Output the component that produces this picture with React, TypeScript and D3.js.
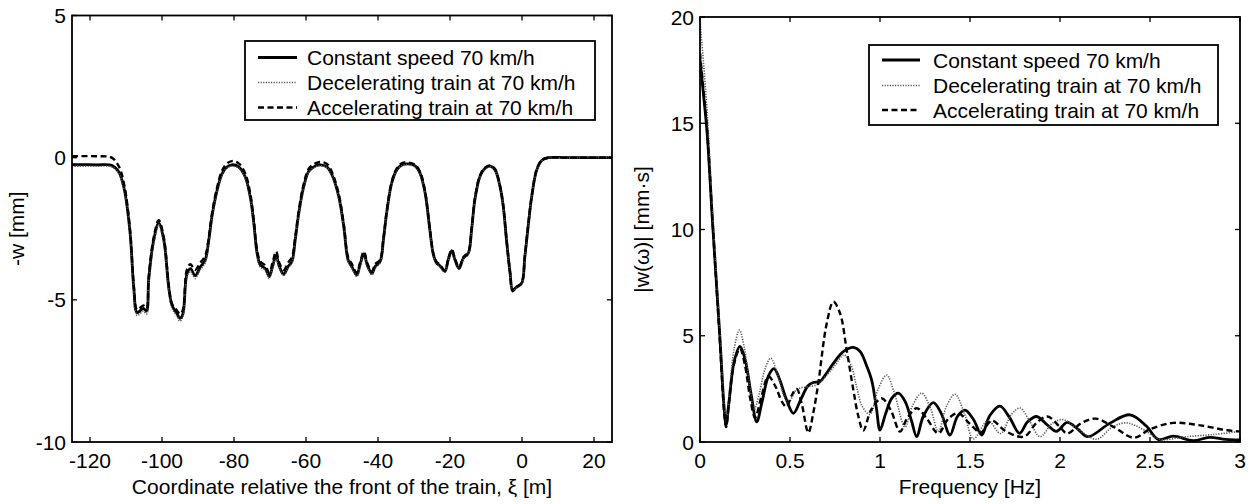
import React from "react";
import * as d3 from "d3";

// ---------- Left panel data: deflection vs coordinate ----------
const XI = [
  -125, -118, -114, -112, -110.5, -108.9, -107.8, -106.9, -105.2, -104.3,
  -103.7, -102.3, -100.9, -99.5, -98.1, -97.2, -96, -95, -94.2, -93.1,
  -92.1, -90.8, -89.4, -88, -87, -86.1, -84.7, -83.3, -81.9, -80.6,
  -78.7, -76.9, -75.5, -74.5, -73.6, -72.7, -71.3, -70.2, -69.3, -68.3,
  -67.4, -66.2, -65.0, -63.9, -63.0, -62.0, -60.6, -59.2, -57.4, -56.0,
  -54.2, -52.8, -50.9, -49.5, -48.3, -47.2, -45.9, -45.0, -43.9, -43.0,
  -41.7, -40.8, -39.4, -38.5, -37.6, -36.2, -34.8, -33.4, -31.6, -29.7,
  -28.3, -26.9, -25.6, -24.6, -23.7, -22.8, -21.4, -20.5, -19.5, -18.6,
  -17.5, -16.3, -14.9, -14.0, -13.1, -11.7, -10.3, -8.9, -7.5, -6.1,
  -5.2, -4.3, -3.3, -2.6, -1.5, -0.1, 0.8, 1.8, 2.7, 4.1,
  5.5, 7.3, 12, 18, 25,
];
const W_CONST = [
  -0.25, -0.25, -0.27, -0.5, -1.1, -2.6, -4.65, -5.45, -5.3, -5.4,
  -4.3, -2.9, -2.3, -2.9, -4.6, -5.2, -5.45, -5.65, -5.5, -4.1,
  -3.9, -4.15, -3.85, -3.6, -2.9, -2.05, -1.15, -0.56, -0.32, -0.25,
  -0.32, -0.67, -1.37, -2.3, -3.35, -3.77, -3.9, -4.18, -3.83, -3.45,
  -3.83, -4.1, -3.83, -3.65, -2.9, -1.95, -1.0, -0.47, -0.29, -0.25,
  -0.32, -0.6, -1.37, -2.43, -3.6, -3.85, -4.13, -3.77, -3.38, -3.77,
  -4.07, -3.83, -3.65, -2.9, -1.95, -0.9, -0.43, -0.26, -0.22, -0.29,
  -0.55, -1.25, -2.54, -3.42, -3.71, -3.8, -4.0, -3.6, -3.27, -3.6,
  -3.9, -3.54, -3.36, -2.54, -1.49, -0.67, -0.38, -0.3, -0.43, -1.02,
  -1.72, -2.9, -4.07, -4.65, -4.55, -4.42, -3.48, -2.31, -1.37, -0.43,
  -0.1, 0.0, 0.0, 0.0, 0.0,
];
const W_DEC = [
  -0.3, -0.3, -0.32, -0.55, -1.15, -2.65, -4.75, -5.55, -5.4, -5.5,
  -4.4, -3.0, -2.35, -3.0, -4.7, -5.3, -5.55, -5.75, -5.6, -4.2,
  -4.0, -4.25, -3.95, -3.7, -2.95, -2.1, -1.2, -0.6, -0.36, -0.3,
  -0.36, -0.7, -1.4, -2.35, -3.4, -3.85, -3.95, -4.25, -3.9, -3.5,
  -3.9, -4.15, -3.9, -3.7, -2.95, -2.0, -1.05, -0.5, -0.32, -0.28,
  -0.35, -0.63, -1.4, -2.48, -3.65, -3.9, -4.18, -3.82, -3.42, -3.82,
  -4.12, -3.88, -3.7, -2.95, -2.0, -0.95, -0.46, -0.28, -0.24, -0.31,
  -0.57, -1.28, -2.57, -3.45, -3.74, -3.83, -4.03, -3.63, -3.3, -3.63,
  -3.93, -3.57, -3.39, -2.57, -1.52, -0.7, -0.4, -0.32, -0.45, -1.04,
  -1.74, -2.92, -4.09, -4.68, -4.58, -4.45, -3.5, -2.33, -1.39, -0.45,
  -0.11, 0.0, -0.02, 0.01, 0.0,
];
const W_ACC = [
  0.05, 0.05, 0.0, -0.3, -0.95, -2.5, -4.55, -5.35, -5.2, -5.3,
  -4.2, -2.8, -2.2, -2.8, -4.5, -5.15, -5.35, -5.5, -5.35, -3.95,
  -3.75, -3.95, -3.7, -3.45, -2.8, -1.95, -1.05, -0.45, -0.2, -0.12,
  -0.2, -0.55, -1.25, -2.2, -3.25, -3.65, -3.8, -4.05, -3.7, -3.3,
  -3.7, -3.95, -3.7, -3.5, -2.8, -1.85, -0.9, -0.38, -0.2, -0.15,
  -0.22, -0.5, -1.28, -2.35, -3.5, -3.75, -4.05, -3.7, -3.3, -3.7,
  -4.0, -3.75, -3.58, -2.85, -1.9, -0.85, -0.38, -0.2, -0.17, -0.25,
  -0.5, -1.2, -2.5, -3.38, -3.67, -3.76, -3.96, -3.56, -3.23, -3.56,
  -3.86, -3.5, -3.32, -2.5, -1.45, -0.63, -0.35, -0.27, -0.4, -1.0,
  -1.7, -2.88, -4.05, -4.7, -4.55, -4.4, -3.45, -2.28, -1.35, -0.4,
  -0.08, 0.0, 0.0, 0.0, 0.0,
];
const LEFT_X_TICKS = [-120, -100, -80, -60, -40, -20, 0, 20];
const LEFT_Y_TICKS = [-10, -5, 0, 5];

// ---------- Right panel data: spectrum magnitude ----------
const F_CONST = [
  0, 0.02, 0.04, 0.07, 0.11, 0.135, 0.145, 0.16, 0.19, 0.222,
  0.25, 0.285, 0.315, 0.345, 0.38, 0.411, 0.44, 0.48, 0.519, 0.56,
  0.6, 0.63, 0.667, 0.7, 0.741, 0.796, 0.852, 0.89, 0.925, 0.954,
  0.98, 1.0, 1.03, 1.065, 1.102, 1.14, 1.175, 1.204, 1.24, 1.296,
  1.34, 1.389, 1.43, 1.472, 1.52, 1.565, 1.61, 1.667, 1.72, 1.775,
  1.82, 1.87, 1.93, 1.98, 2.04, 2.1, 2.155, 2.28, 2.389, 2.48,
  2.545, 2.63, 2.74, 2.83, 2.92, 3.0,
];
const S_CONST = [
  18.0, 16.3, 14.5, 10.3, 5.0, 1.5, 0.8, 1.8, 3.8, 4.5,
  3.9, 2.2, 0.95, 1.9, 3.1, 3.45, 3.0, 2.0, 1.35, 2.0,
  2.65, 2.8, 2.85, 3.2, 3.7, 4.25, 4.45, 4.25, 3.6, 2.9,
  1.6, 0.56, 1.3, 2.05, 2.3, 1.9, 1.0, 0.25, 1.2, 1.85,
  1.35, 0.33, 1.2, 1.5, 1.05, 0.33, 1.25, 1.69, 1.15, 0.41,
  0.95, 1.2, 0.8, 0.5, 0.92, 0.6, 0.25, 0.9, 1.28, 0.75,
  0.12, 0.28, 0.06, 0.22, 0.12, 0.1,
];
const F_DEC = [
  0, 0.02, 0.04, 0.07, 0.11, 0.135, 0.148, 0.165, 0.19, 0.219,
  0.245, 0.275, 0.3, 0.33, 0.36, 0.393, 0.43, 0.465, 0.49, 0.53,
  0.56, 0.6, 0.65, 0.7, 0.75, 0.8, 0.84, 0.87, 0.9, 0.944,
  0.99, 1.037, 1.08, 1.139, 1.18, 1.231, 1.28, 1.324, 1.37, 1.417,
  1.47, 1.519, 1.6, 1.67, 1.73, 1.778, 1.83, 1.889, 1.96, 2.02,
  2.1, 2.204, 2.29, 2.37, 2.46, 2.556, 2.7, 2.85, 3.0,
];
const S_DEC = [
  19.8, 17.8, 15.5, 10.8, 5.3, 1.8, 0.95, 2.5, 4.4, 5.27,
  4.5, 2.7, 1.51, 2.3, 3.4, 3.94, 3.2, 2.2, 1.82, 2.4,
  2.55, 2.6, 2.7, 3.1, 3.6, 4.1, 3.6, 2.6, 1.7, 1.3,
  2.5, 3.15, 2.3, 0.7, 1.7, 2.3, 1.6, 0.5, 1.7, 2.25,
  1.3, 0.15, 1.0, 0.4, 1.3, 1.6, 1.0, 0.25, 0.9, 1.05,
  0.6, 0.13, 0.7, 0.9, 0.6, 0.13, 0.25, 0.35, 0.5,
];
const F_ACC = [
  0, 0.02, 0.04, 0.07, 0.11, 0.135, 0.145, 0.16, 0.19, 0.222,
  0.25, 0.28, 0.306, 0.34, 0.38, 0.42, 0.455, 0.48, 0.51, 0.537,
  0.565, 0.602, 0.63, 0.657, 0.704, 0.741, 0.778, 0.815, 0.852, 0.88,
  0.907, 0.95, 1.009, 1.06, 1.111, 1.15, 1.204, 1.26, 1.324, 1.38,
  1.435, 1.5, 1.56, 1.62, 1.7, 1.8, 1.87, 1.93, 2.0, 2.04,
  2.12, 2.2, 2.3, 2.41, 2.5, 2.63, 2.78, 2.93, 3.0,
];
const S_ACC = [
  18.3, 16.5, 14.6, 10.3, 4.8, 1.3, 0.7, 1.8, 3.7, 4.4,
  3.6, 2.0, 1.15, 2.1, 3.08, 2.6, 1.9, 1.66, 2.2, 2.5,
  1.8, 0.44, 1.4, 2.76, 5.58, 6.6, 6.06, 4.33, 2.45, 1.2,
  0.54, 1.5, 2.06, 1.5, 0.49, 1.1, 1.59, 1.1, 0.41, 1.1,
  1.35, 0.85, 0.45, 1.0, 0.5, 0.25, 0.9, 1.2, 0.7, 0.4,
  0.9, 1.1, 0.7, 0.2, 0.6, 0.9, 0.78, 0.55, 0.5,
];
const RIGHT_X_TICKS = [0, 0.5, 1, 1.5, 2, 2.5, 3];
const RIGHT_Y_TICKS = [0, 5, 10, 15, 20];

const LEGEND_LABELS = [
  "Constant speed 70 km/h",
  "Decelerating train at 70 km/h",
  "Accelerating train at 70 km/h",
];

const FONT = "'Liberation Sans', Arial, Helvetica, sans-serif";
const FS = 21;

const STYLES = [
  { stroke: "#000", width: 2.8, dash: "none" },
  { stroke: "#555", width: 1.6, dash: "1.2,1.4" },
  { stroke: "#000", width: 2.4, dash: "6,3.5" },
];

type PanelProps = {
  x0: number; x1: number; y0: number; y1: number;
  xDomain: [number, number]; yDomain: [number, number];
  xTicks: number[]; yTicks: number[];
  series: { x: number[]; y: number[] }[];
  curve: d3.CurveFactory;
  xLabel: string; yLabel: string; yLabelX: number;
  legend: { x: number; y: number; w: number; h: number; lineX0: number; lineX1: number; textX: number; rows: number[] };
  id: string;
};

function Panel(p: PanelProps) {
  const xs = d3.scaleLinear().domain(p.xDomain).range([p.x0, p.x1]);
  const ys = d3.scaleLinear().domain(p.yDomain).range([p.y1, p.y0]);
  const tl = 5;
  const fmt = (v: number) => String(v);
  return (
    <g fontFamily={FONT} fontSize={FS} fill="#000">
      <defs>
        <clipPath id={p.id}>
          <rect x={p.x0} y={p.y0} width={p.x1 - p.x0} height={p.y1 - p.y0} />
        </clipPath>
      </defs>
      <g clipPath={`url(#${p.id})`}>
        {p.series.map((s, i) => {
          const pts: [number, number][] = s.x.map((xv, k) => [xv, s.y[k]]);
          const gen = d3.line<[number, number]>().x((d) => xs(d[0])).y((d) => ys(d[1])).curve(p.curve);
          const st = STYLES[i];
          return (
            <path key={i} d={gen(pts) || ""} fill="none" stroke={st.stroke} strokeWidth={st.width}
              strokeDasharray={st.dash} strokeLinejoin="round" />
          );
        })}
      </g>
      {p.xTicks.map((t) => (
        <g key={"x" + t}>
          <line x1={xs(t)} x2={xs(t)} y1={p.y1} y2={p.y1 - tl} stroke="#000" strokeWidth={1.3} />
          <line x1={xs(t)} x2={xs(t)} y1={p.y0} y2={p.y0 + tl} stroke="#000" strokeWidth={1.3} />
          <text x={xs(t)} y={p.y1 + 26} textAnchor="middle">{fmt(t)}</text>
        </g>
      ))}
      {p.yTicks.map((t) => (
        <g key={"y" + t}>
          <line x1={p.x0} x2={p.x0 + tl} y1={ys(t)} y2={ys(t)} stroke="#000" strokeWidth={1.3} />
          <line x1={p.x1} x2={p.x1 - tl} y1={ys(t)} y2={ys(t)} stroke="#000" strokeWidth={1.3} />
          <text x={p.x0 - 6} y={ys(t) + 7.5} textAnchor="end">{fmt(t)}</text>
        </g>
      ))}
      <rect x={p.x0} y={p.y0} width={p.x1 - p.x0} height={p.y1 - p.y0} fill="none" stroke="#000" strokeWidth={1.8} />
      <text x={(p.x0 + p.x1) / 2} y={p.y1 + 52} textAnchor="middle">{p.xLabel}</text>
      <text transform={`translate(${p.yLabelX},${(p.y0 + p.y1) / 2}) rotate(-90)`} textAnchor="middle">{p.yLabel}</text>
      <rect x={p.legend.x} y={p.legend.y} width={p.legend.w} height={p.legend.h} fill="#fff" stroke="#000" strokeWidth={1.8} />
      {LEGEND_LABELS.map((lab, i) => {
        const st = STYLES[i];
        const cy = p.legend.rows[i];
        return (
          <g key={lab}>
            <line x1={p.legend.lineX0} x2={p.legend.lineX1} y1={cy} y2={cy} stroke={st.stroke}
              strokeWidth={st.width} strokeDasharray={st.dash} />
            <text x={p.legend.textX} y={cy + 7.5}>{lab}</text>
          </g>
        );
      })}
    </g>
  );
}

export default function App() {
  return (
    <div style={{ position: "absolute", left: 0, top: 0 }}>
      <svg width={1258} height={504} style={{ display: "block", background: "#fff" }}>
        <Panel
          id="clipL"
          x0={72} x1={612} y0={15.5} y1={442}
          xDomain={[-125, 25]} yDomain={[-10, 5]}
          xTicks={LEFT_X_TICKS} yTicks={LEFT_Y_TICKS}
          series={[{ x: XI, y: W_CONST }, { x: XI, y: W_DEC }, { x: XI, y: W_ACC }]}
          curve={d3.curveCatmullRom.alpha(0.5)}
          xLabel="Coordinate relative the front of the train, ξ [m]"
          yLabel="-w [mm]" yLabelX={24}
          legend={{ x: 245, y: 41, w: 350, h: 79, lineX0: 258, lineX1: 297, textX: 307, rows: [57.5, 82.5, 107.5] }}
        />
        <Panel
          id="clipR"
          x0={700} x1={1240} y0={17} y1={442}
          xDomain={[0, 3]} yDomain={[0, 20]}
          xTicks={RIGHT_X_TICKS} yTicks={RIGHT_Y_TICKS}
          series={[{ x: F_CONST, y: S_CONST }, { x: F_DEC, y: S_DEC }, { x: F_ACC, y: S_ACC }]}
          curve={d3.curveCatmullRom.alpha(0.5)}
          xLabel="Frequency [Hz]"
          yLabel="|w(ω)| [mm·s]" yLabelX={649}
          legend={{ x: 869, y: 45, w: 349, h: 80, lineX0: 882, lineX1: 920, textX: 933, rows: [60, 85.5, 110] }}
        />
      </svg>
    </div>
  );
}
